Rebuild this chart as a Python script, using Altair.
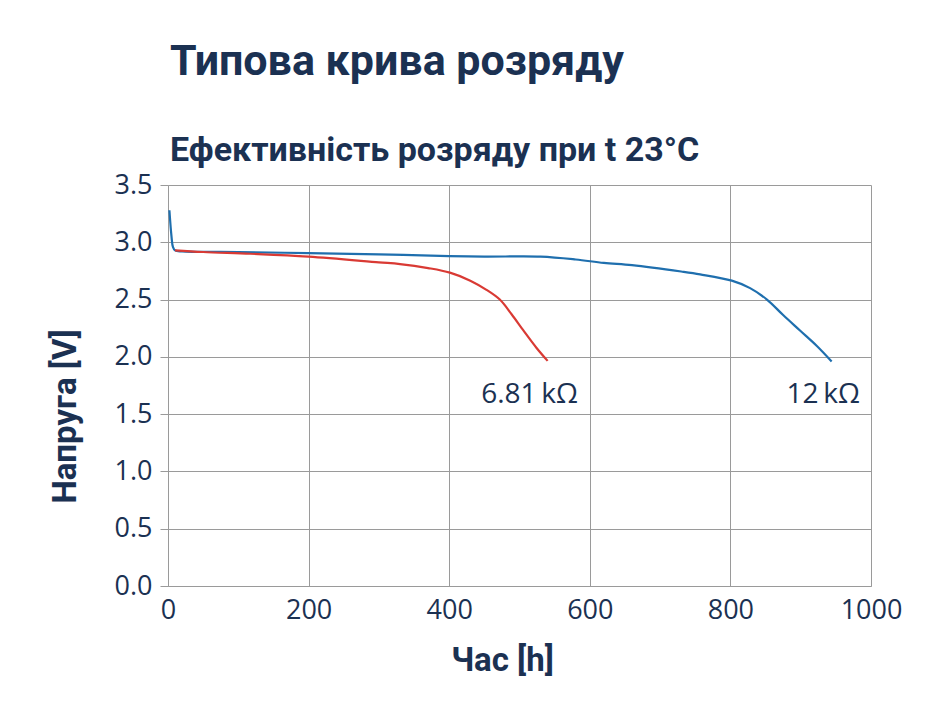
import altair as alt
import pandas as pd

# ---- data ----
blue_name = "12 kΩ"
blue_h = [2, 5, 7, 10, 20, 100, 200, 300, 400, 450, 530, 580, 620, 660, 730, 757, 802, 828, 852, 875, 899, 923, 944]
blue_v = [3.28, 3.05, 2.96, 2.93, 2.92, 2.915, 2.905, 2.895, 2.88, 2.875, 2.875, 2.85, 2.82, 2.80, 2.745, 2.72, 2.665, 2.60, 2.50, 2.365, 2.23, 2.095, 1.96]

red_name = "6.81 kΩ"
red_h = [10, 50, 117, 200, 300, 330, 370, 401, 430, 453, 472, 489, 505, 524, 540]
red_v = [2.93, 2.915, 2.90, 2.875, 2.825, 2.81, 2.775, 2.735, 2.665, 2.585, 2.50, 2.37, 2.235, 2.08, 1.965]

label_text = ["6.81\u2009kΩ", "12\u2009kΩ"]
label_h = [583, 984]
label_v = [1.60, 1.60]

x_ticks = [0, 200, 400, 600, 800, 1000]
y_ticks = [0.0, 0.5, 1.0, 1.5, 2.0, 2.5, 3.0, 3.5]

NAVY = "#1b3152"
GRID = "#9a9a9a"

rows = [{"h": h, "v": v, "s": blue_name, "o": i} for i, (h, v) in enumerate(zip(blue_h, blue_v))]
rows += [{"h": h, "v": v, "s": red_name, "o": i} for i, (h, v) in enumerate(zip(red_h, red_v))]
df = pd.DataFrame(rows)
lab = pd.DataFrame({"t": label_text, "h": label_h, "v": label_v})

x_enc = alt.X("h:Q", scale=alt.Scale(domain=[0, 1000], nice=False),
              axis=alt.Axis(values=x_ticks, format="d", title="Час [h]", ticks=False, labelPadding=11,
                            labelFlush=False,
                            titleX=334, titleY=84, titleBaseline="alphabetic", titleAlign="center"))
y_enc = alt.Y("v:Q", scale=alt.Scale(domain=[0, 3.5], nice=False),
              axis=alt.Axis(values=y_ticks, format=".1f", title="Напруга [V]", tickSize=8, labelPadding=8,
                            labelFlush=False,
                            titleX=-93, titleY=231, titleAngle=-90, titleBaseline="alphabetic", titleAlign="center"))

lines = alt.Chart(df).mark_line(strokeWidth=2.2, interpolate="catmull-rom").encode(
    x=x_enc, y=y_enc,
    color=alt.Color("s:N", scale=alt.Scale(domain=[blue_name, red_name], range=["#1f6fae", "#d93a34"]), legend=None),
    order="o:Q",
)

texts = alt.Chart(lab).mark_text(align="right", baseline="alphabetic", font="Open Sans", fontSize=28, color=NAVY).encode(
    x="h:Q", y="v:Q", text="t:N"
)

chart = alt.layer(lines, texts).properties(
    width=703, height=401,
    title=alt.TitleParams(
        text="Типова крива розряду",
        subtitle="Ефективність розряду при t 23°C",
        anchor="start", frame="group", dx=2, offset=3,
        font="Roboto", fontSize=43, fontWeight="bold", color=NAVY,
        subtitleFont="Roboto", subtitleFontSize=34, subtitleFontWeight="bold", subtitleColor=NAVY,
        subtitlePadding=50,
    ),
    autosize=alt.AutoSizeParams(type="none"),
    padding={"left": 160, "top": 177, "right": 72, "bottom": 133},
).configure_view(stroke=None).configure_axis(
    domainColor=GRID, gridColor=GRID, tickColor=GRID, gridWidth=1, domainWidth=1,
    labelFont="Open Sans", labelFontSize=27, labelColor=NAVY,
    titleFont="Roboto", titleFontSize=33, titleFontWeight="bold", titleColor=NAVY,
)

chart.save("out.html", embed_options={"renderer": "svg", "actions": False})
